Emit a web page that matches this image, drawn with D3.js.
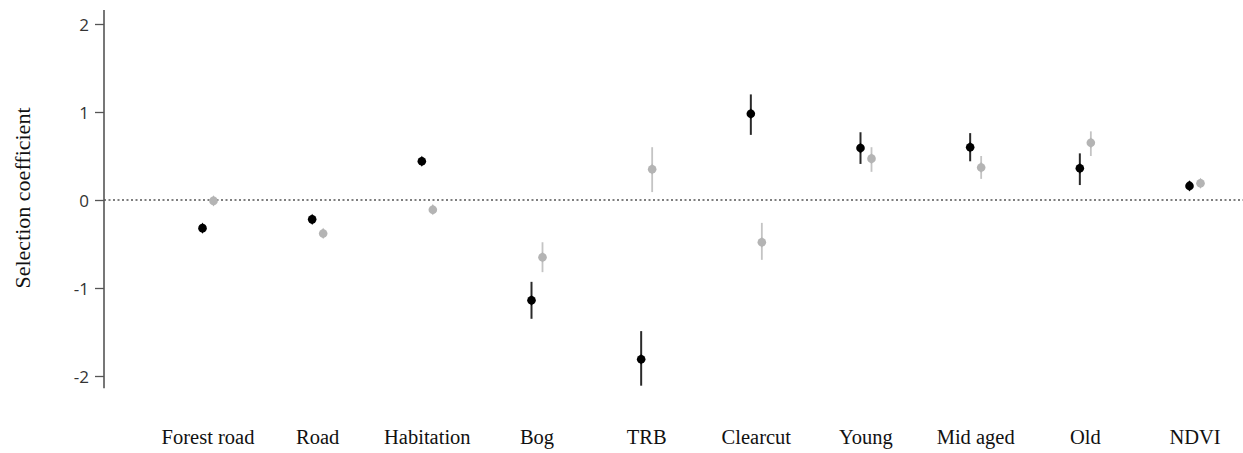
<!DOCTYPE html>
<html lang="en">
<head>
  <meta charset="UTF-8">
  <title>Selection coefficients</title>
  <script src="https://d3js.org/d3.v7.min.js"></script>
  <style>
    body { margin: 0; background: #fff; }
    .tick text { font-family: "Open Sans", "Liberation Sans", sans-serif; font-size: 17px; fill: #333; }
    .cat { font-family: "Liberation Serif", "Times New Roman", serif; font-size: 20.5px; fill: #111; }
  </style>
</head>
<body>
<svg width="1243" height="453"></svg>
<script>
  // categories and series (estimate, lower, upper)
  var categories = ["Forest road", "Road", "Habitation", "Bog", "TRB", "Clearcut", "Young", "Mid aged", "Old", "NDVI"];
  var blackVals  = [-0.32, -0.22, 0.44, -1.14, -1.81, 0.98, 0.59, 0.60, 0.36, 0.16];
  var blackLow   = [-0.35, -0.25, 0.41, -1.35, -2.11, 0.74, 0.41, 0.44, 0.17, 0.11];
  var blackHigh  = [-0.29, -0.19, 0.47, -0.93, -1.49, 1.20, 0.77, 0.76, 0.53, 0.21];
  var grayVals   = [-0.01, -0.38, -0.11, -0.65, 0.35, -0.48, 0.47, 0.37, 0.65, 0.19];
  var grayLow    = [-0.04, -0.41, -0.14, -0.82, 0.09, -0.68, 0.32, 0.24, 0.50, 0.16];
  var grayHigh   = [0.02, -0.35, -0.08, -0.48, 0.60, -0.26, 0.60, 0.50, 0.78, 0.22];
  var yTicks     = [-2, -1, 0, 1, 2];

  var svg = d3.select("svg");

  var x = d3.scalePoint().domain(categories).range([208, 1195]);
  var y = d3.scaleLinear().domain([-2, 2]).range([376, 24]);
  var axisX = 104;

  // zero reference line
  svg.append("line")
     .attr("x1", axisX).attr("x2", 1243)
     .attr("y1", y(0)).attr("y2", y(0))
     .attr("stroke", "#555")
     .attr("stroke-width", 1.3)
     .attr("stroke-dasharray", "2,2.5");

  // y axis
  var gy = svg.append("g")
     .attr("transform", "translate(" + axisX + ",0)")
     .call(d3.axisLeft(y).tickValues(yTicks).tickFormat(function(d) { return String(d); })
       .tickSize(9).tickSizeOuter(0).tickPadding(6));
  gy.select(".domain").remove();
  gy.selectAll(".tick line").attr("stroke", "#555").attr("stroke-width", 1.3);
  gy.selectAll(".tick text").attr("dy", "0.36em");
  gy.append("line")
    .attr("y1", y(2.16)).attr("y2", y(-2.14))
    .attr("stroke", "#555").attr("stroke-width", 1.6);

  svg.append("text")
     .attr("class", "cat")
     .attr("transform", "translate(30," + (y(0) - 2) + ") rotate(-90)")
     .attr("text-anchor", "middle")
     .style("font-size", "22px")
     .text("Selection coefficient");

  // category labels
  svg.selectAll(".catlabel")
     .data(categories)
     .enter().append("text")
     .attr("class", "cat")
     .attr("x", function(d) { return x(d); })
     .attr("y", 444)
     .attr("text-anchor", "middle")
     .text(function(d) { return d; });

  function drawSeries(vals, low, high, offset, pointColor, barColor, barWidth) {
    var g = svg.append("g");
    g.selectAll("line")
     .data(categories)
     .enter().append("line")
     .attr("x1", function(d) { return x(d) + offset; })
     .attr("x2", function(d) { return x(d) + offset; })
     .attr("y1", function(d, i) { return y(low[i]); })
     .attr("y2", function(d, i) { return y(high[i]); })
     .attr("stroke", barColor)
     .attr("stroke-width", barWidth);
    g.selectAll("path")
     .data(categories)
     .enter().append("path")
     .attr("d", d3.symbol().type(d3.symbolDiamond).size(36))
     .attr("transform", function(d, i) { return "translate(" + (x(d) + offset) + "," + y(vals[i]) + ")"; })
     .attr("fill", pointColor);
    g.selectAll("circle")
     .data(categories)
     .enter().append("circle")
     .attr("cx", function(d) { return x(d) + offset; })
     .attr("cy", function(d, i) { return y(vals[i]); })
     .attr("r", 4.3)
     .attr("fill", pointColor);
  }

  drawSeries(grayVals, grayLow, grayHigh, 5.5, "#b4b4b4", "#c4c4c4", 1.8);
  drawSeries(blackVals, blackLow, blackHigh, -5.5, "#000", "#2a2a2a", 2);
</script>
</body>
</html>
